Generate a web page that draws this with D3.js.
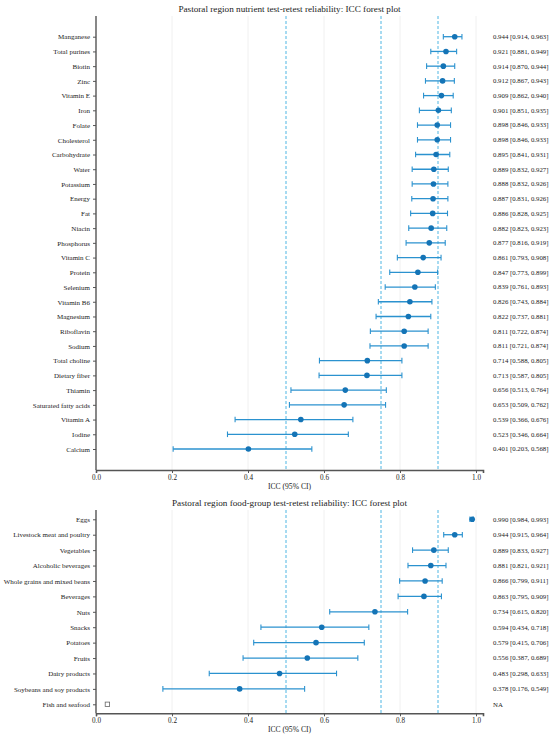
<!DOCTYPE html>
<html>
<head>
<meta charset="utf-8">
<script src="https://cdn.jsdelivr.net/npm/d3@7"></script>
<style>
  body { margin: 0; background: #fff; }
  text { font-family: "Liberation Serif", "DejaVu Serif", serif; }
</style>
</head>
<body>
<script>
const nutrients = ["Manganese", "Total purines", "Biotin", "Zinc", "Vitamin E", "Iron", "Folate",
  "Cholesterol", "Carbohydrate", "Water", "Potassium", "Energy", "Fat", "Niacin", "Phosphorus",
  "Vitamin C", "Protein", "Selenium", "Vitamin B6", "Magnesium", "Riboflavin", "Sodium",
  "Total choline", "Dietary fiber", "Thiamin", "Saturated fatty acids", "Vitamin A", "Iodine", "Calcium"];
const nutrientIcc = [0.944, 0.921, 0.914, 0.912, 0.909, 0.901, 0.898, 0.898, 0.895, 0.889, 0.888, 0.887,
  0.886, 0.882, 0.877, 0.861, 0.847, 0.839, 0.826, 0.822, 0.811, 0.811, 0.714, 0.713, 0.656, 0.653,
  0.539, 0.523, 0.401];
const nutrientLo = [0.914, 0.881, 0.870, 0.867, 0.862, 0.851, 0.846, 0.846, 0.841, 0.832, 0.832, 0.831,
  0.828, 0.823, 0.816, 0.793, 0.773, 0.761, 0.743, 0.737, 0.722, 0.721, 0.588, 0.587, 0.513, 0.509,
  0.366, 0.346, 0.203];
const nutrientHi = [0.963, 0.949, 0.944, 0.943, 0.940, 0.935, 0.933, 0.933, 0.931, 0.927, 0.926, 0.926,
  0.925, 0.923, 0.919, 0.908, 0.899, 0.893, 0.884, 0.881, 0.874, 0.874, 0.805, 0.805, 0.764, 0.762,
  0.676, 0.664, 0.568];

const foods = ["Eggs", "Livestock meat and poultry", "Vegetables", "Alcoholic beverages",
  "Whole grains and mixed beans", "Beverages", "Nuts", "Snacks", "Potatoes", "Fruits",
  "Dairy products", "Soybeans and soy products", "Fish and seafood"];
const foodIcc = [0.990, 0.944, 0.889, 0.881, 0.866, 0.863, 0.734, 0.594, 0.579, 0.556, 0.483, 0.378, null];
const foodLo = [0.984, 0.915, 0.833, 0.821, 0.799, 0.795, 0.615, 0.434, 0.415, 0.387, 0.298, 0.176, null];
const foodHi = [0.993, 0.964, 0.927, 0.921, 0.911, 0.909, 0.820, 0.718, 0.706, 0.689, 0.633, 0.549, null];

const xTicks = [0, 0.2, 0.4, 0.6, 0.8, 1.0];
const gridTicks = [0.2, 0.4, 0.6, 0.8, 1.0];
const refLines = [0.5, 0.75, 0.9];

const W = 550, H = 740;
const svg = d3.select("body").append("svg").attr("width", W).attr("height", H);

const x = d3.scaleLinear().domain([0, 1.0184]).range([96, 483]);

const fmt = d3.format(".3f");

function panel(title, names, icc, lo, hi, top, firstRow, lastRow, bottom) {
  const rows = names.map((n, i) => ({ name: n, icc: icc[i], lo: lo[i], hi: hi[i] }));
  const y = d3.scalePoint().domain(names).range([firstRow, lastRow]);
  const g = svg.append("g");

  g.append("text")
    .attr("x", (x.range()[0] + x.range()[1]) / 2)
    .attr("y", top - 4)
    .attr("text-anchor", "middle")
    .attr("font-size", 9.2)
    .attr("fill", "#222")
    .text(title);

  // grid
  g.selectAll(".grid").data(gridTicks).enter().append("line")
    .attr("x1", d => x(d)).attr("x2", d => x(d))
    .attr("y1", top).attr("y2", bottom)
    .attr("stroke", "#ececec").attr("stroke-width", 0.8);

  // reference lines
  g.selectAll(".ref").data(refLines).enter().append("line")
    .attr("x1", d => x(d)).attr("x2", d => x(d))
    .attr("y1", top).attr("y2", bottom)
    .attr("stroke", "#3aaee0").attr("stroke-width", 0.9)
    .attr("stroke-dasharray", "3,2");

  const ok = rows.filter(d => d.icc != null);

  g.selectAll(".ci").data(ok).enter().append("line")
    .attr("x1", d => x(d.lo)).attr("x2", d => x(d.hi))
    .attr("y1", d => y(d.name)).attr("y2", d => y(d.name))
    .attr("stroke", "#2b92cf").attr("stroke-width", 1.3);

  ["lo", "hi"].forEach(k => {
    g.selectAll(".cap-" + k).data(ok).enter().append("line")
      .attr("x1", d => x(d[k])).attr("x2", d => x(d[k]))
      .attr("y1", d => y(d.name) - 2.8).attr("y2", d => y(d.name) + 2.8)
      .attr("stroke", "#2b92cf").attr("stroke-width", 1.1);
  });

  g.selectAll(".pt").data(ok).enter().append("circle")
    .attr("cx", d => x(d.icc)).attr("cy", d => y(d.name))
    .attr("r", 2.8)
    .attr("fill", "#1474b6");

  // NA marker
  const na = rows.filter(d => d.icc == null);
  g.selectAll(".na").data(na).enter().append("rect")
    .attr("x", x(0.03) - 2.2).attr("y", d => y(d.name) - 2.2)
    .attr("width", 4.4).attr("height", 4.4)
    .attr("fill", "#fff").attr("stroke", "#666").attr("stroke-width", 0.8);

  // right annotations
  g.selectAll(".ann").data(rows).enter().append("text")
    .attr("x", 493)
    .attr("y", d => y(d.name))
    .attr("dy", "0.35em")
    .attr("font-size", 6.8)
    .attr("fill", "#222")
    .text(d => d.icc == null ? "NA" : `${fmt(d.icc)} [${fmt(d.lo)}, ${fmt(d.hi)}]`);

  // axes
  const yAxis = g.append("g")
    .attr("transform", `translate(${x.range()[0]},0)`)
    .call(d3.axisLeft(y).tickSize(3).tickPadding(3));
  yAxis.select(".domain").remove();
  yAxis.append("line")
    .attr("x1", 0).attr("x2", 0).attr("y1", top).attr("y2", bottom)
    .attr("stroke", "#555").attr("stroke-width", 1.4);
  yAxis.selectAll(".tick line").attr("stroke", "#555");
  yAxis.selectAll(".tick text")
    .attr("font-size", 7).attr("fill", "#222");

  const xAxis = g.append("g")
    .attr("transform", `translate(0,${bottom})`)
    .call(d3.axisBottom(x).tickValues(xTicks).tickFormat(d3.format(".1f")).tickSize(3).tickPadding(2));
  xAxis.select(".domain").attr("stroke", "#555").attr("stroke-width", 1.6);
  xAxis.selectAll(".tick line").attr("stroke", "#555");
  xAxis.selectAll(".tick text")
    .attr("font-size", 7.2).attr("fill", "#222");

  g.append("text")
    .attr("x", (x.range()[0] + x.range()[1]) / 2)
    .attr("y", bottom + 19)
    .attr("text-anchor", "middle")
    .attr("font-size", 7.6)
    .attr("fill", "#222")
    .text("ICC (95% CI)");
}

panel("Pastoral region nutrient test-retest reliability: ICC forest plot",
  nutrients, nutrientIcc, nutrientLo, nutrientHi, 16, 36.7, 449, 470);
panel("Pastoral region food-group test-retest reliability: ICC forest plot",
  foods, foodIcc, foodLo, foodHi, 510, 519.3, 704.3, 713.3);
</script>
</body>
</html>
